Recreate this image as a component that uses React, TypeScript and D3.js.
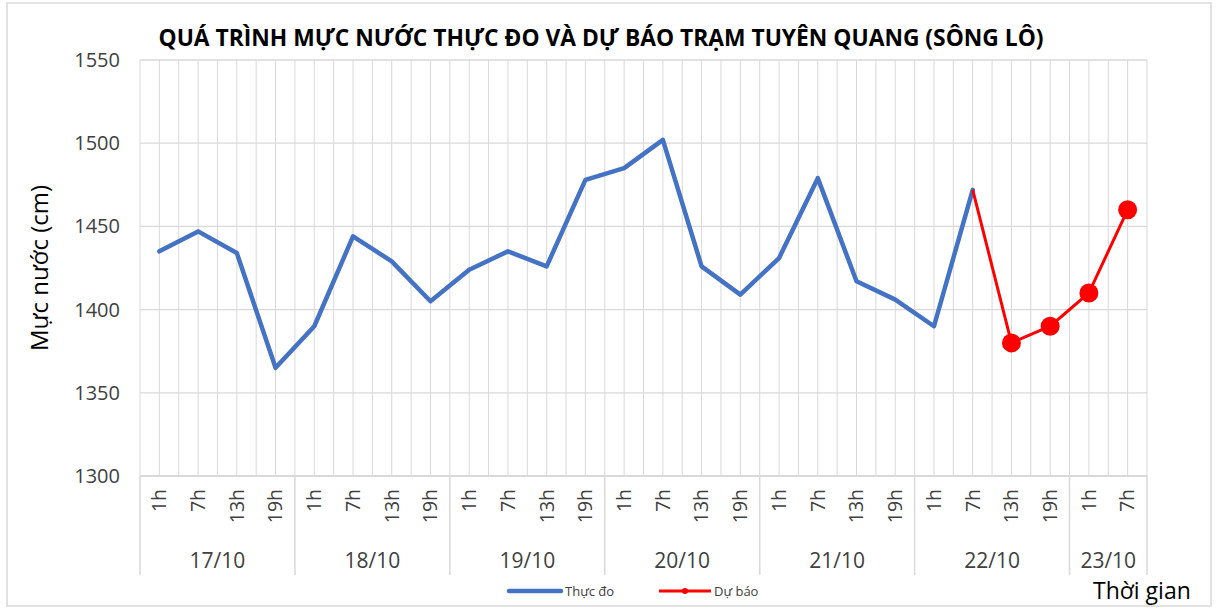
import React from "react";
import * as d3 from "d3";

const days = ["17/10", "18/10", "19/10", "20/10", "21/10", "22/10", "23/10"];
const hours = ["1h", "7h", "13h", "19h"];
const categories: { day: string; hour: string }[] = [];
days.forEach((d, i) => {
  const hs = i === days.length - 1 ? hours.slice(0, 2) : hours;
  hs.forEach((h) => categories.push({ day: d, hour: h }));
});

const observed = [
  1435, 1447, 1434, 1365,
  1390, 1444, 1429, 1405,
  1424, 1435, 1426, 1478,
  1485, 1502, 1426, 1409,
  1431, 1479, 1417, 1406,
  1390, 1472,
];
// forecast starting at index 21 (22/10 7h)
const forecastStart = 21;
const forecast = [1472, 1380, 1390, 1410, 1460];

const yTicks = [1300, 1350, 1400, 1450, 1500, 1550];

const W = 1216;
const H = 609;
const FONT = "'Open Sans', 'Liberation Sans', sans-serif";

export default function App() {
  const left = 140;
  const right = 1147;
  const top = 60;
  const bottom = 476;
  const n = categories.length;
  const x = d3.scaleBand<number>().domain(d3.range(n)).range([left, right]).padding(0);
  const bw = x.bandwidth();
  const cx = (i: number) => (x(i) as number) + bw / 2;
  const y = d3.scaleLinear().domain([1300, 1550]).range([bottom, top]);

  const line = d3
    .line<number>()
    .x((_, i) => cx(i))
    .y((d) => y(d));
  const fline = d3
    .line<number>()
    .x((_, i) => cx(i + forecastStart))
    .y((d) => y(d));

  const vGrid = d3.range(0, 2 * n + 1).map((k) => left + (k * bw) / 2);

  // day groups
  const groups: { day: string; start: number; end: number }[] = [];
  categories.forEach((c, i) => {
    const g = groups[groups.length - 1];
    if (g && g.day === c.day) g.end = i;
    else groups.push({ day: c.day, start: i, end: i });
  });

  const gridColor = "#d9d9d9";
  const sepBottom = 575;

  return (
    <svg
      width={W}
      height={H}
      style={{ position: "absolute", left: 0, top: 0, background: "#fff" }}
      fontFamily={FONT}
    >
      <rect x={7} y={3} width={W - 12} height={H - 6} fill="#fff" stroke={gridColor} strokeWidth={1.5} />
      <text x={601} y={46} textAnchor="middle" fontWeight="bold" fontSize={22.8} fill="#000">
        QUÁ TRÌNH MỰC NƯỚC THỰC ĐO VÀ DỰ BÁO TRẠM TUYÊN QUANG (SÔNG LÔ)
      </text>

      {/* vertical gridlines */}
      {vGrid.map((gx, i) => (
        <line key={"v" + i} x1={gx} x2={gx} y1={top} y2={bottom} stroke={gridColor} strokeWidth={1} />
      ))}
      {/* horizontal gridlines */}
      {yTicks.map((t) => (
        <line key={"h" + t} x1={left} x2={right} y1={y(t)} y2={y(t)} stroke={gridColor} strokeWidth={1.3} />
      ))}
      {yTicks.map((t) => (
        <text key={"yt" + t} x={120} y={y(t)} dy="0.35em" textAnchor="end" fontSize={20} fill="#404040">
          {t}
        </text>
      ))}
      <text
        transform={`translate(40,268) rotate(-90)`}
        textAnchor="middle"
        dy="0.35em"
        fontSize={24}
        fill="#000"
      >
        Mực nước (cm)
      </text>

      {/* x axis */}
      <line x1={left} x2={right} y1={bottom} y2={bottom} stroke={gridColor} strokeWidth={2} />
      {groups.map((g, i) => (
        <line
          key={"s" + i}
          x1={x(g.start) as number}
          x2={x(g.start) as number}
          y1={bottom}
          y2={sepBottom}
          stroke={gridColor}
          strokeWidth={1.5}
        />
      ))}
      <line x1={right} x2={right} y1={bottom} y2={sepBottom} stroke={gridColor} strokeWidth={1.5} />
      {categories.map((c, i) => (
        <text
          key={"hl" + i}
          transform={`translate(${cx(i)},489) rotate(-90)`}
          textAnchor="end"
          dy="0.35em"
          fontSize={19.5}
          fill="#404040"
        >
          {c.hour}
        </text>
      ))}
      {groups.map((g, i) => (
        <text
          key={"dl" + i}
          x={((x(g.start) as number) + (x(g.end) as number) + bw) / 2}
          y={568}
          textAnchor="middle"
          fontSize={21}
          fill="#404040"
        >
          {g.day}
        </text>
      ))}

      {/* series */}
      <path d={line(observed) || ""} fill="none" stroke="#4472c4" strokeWidth={4.5} strokeLinejoin="round" strokeLinecap="round" />
      <path d={fline(forecast) || ""} fill="none" stroke="#ff0000" strokeWidth={3} strokeLinejoin="round" />
      {forecast.slice(1).map((v, i) => (
        <circle key={"m" + i} cx={cx(i + 1 + forecastStart)} cy={y(v)} r={9.5} fill="#ff0000" />
      ))}

      {/* legend */}
      <line x1={509} x2={561} y1={591} y2={591} stroke="#4472c4" strokeWidth={4.5} strokeLinecap="round" />
      <text x={565} y={591} dy="0.35em" fontSize={13} fill="#404040">Thực đo</text>
      <line x1={659} x2={711} y1={591} y2={591} stroke="#ff0000" strokeWidth={3} />
      <circle cx={685} cy={591} r={3} fill="#ff0000" />
      <text x={714} y={591} dy="0.35em" fontSize={13} fill="#404040">Dự báo</text>

      <text x={1093} y={599} fontSize={23} fill="#000">Thời gian</text>
    </svg>
  );
}
